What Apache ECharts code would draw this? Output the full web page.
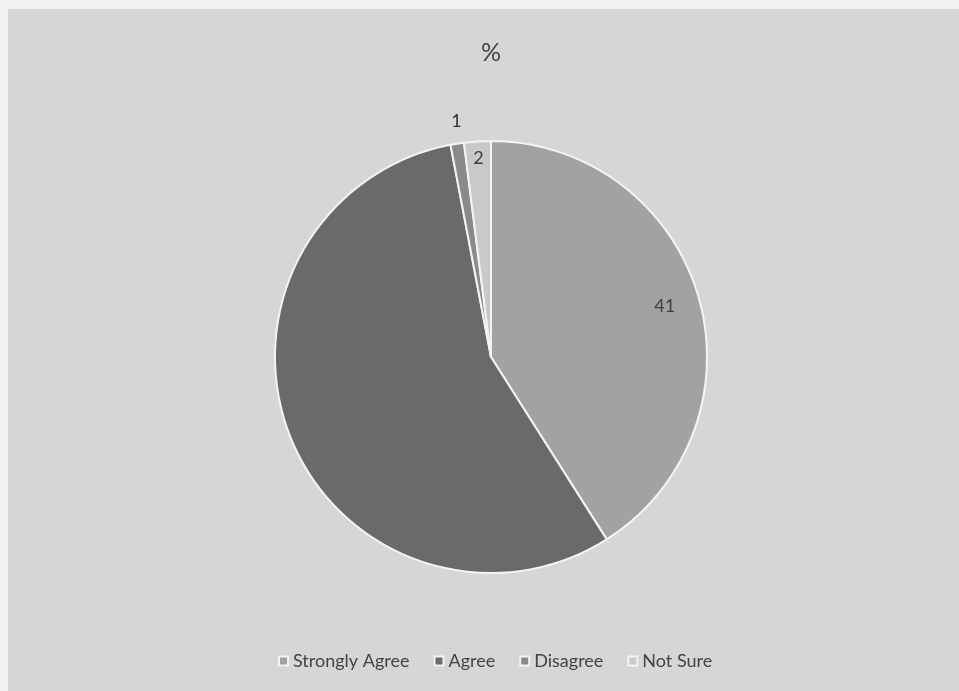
<!DOCTYPE html>
<html>
<head>
<meta charset="utf-8">
<script src="https://cdn.jsdelivr.net/npm/echarts@6/dist/echarts.min.js"></script>
<style>
html,body{margin:0;padding:0;background:#f2f2f2;width:959px;height:691px;overflow:hidden;}
#c{position:absolute;left:8px;top:9px;width:951px;height:682px;background:#d6d6d6;}
</style>
</head>
<body>
<div id="c"></div>
<script>
const titleText = '%';
const categories = ['Strongly Agree', 'Agree', 'Disagree', 'Not Sure'];
const values = [41, 56, 1, 2];
const colors = ['#a2a2a2', '#6a6a6a', '#8a8a8a', '#c9c9c9'];
// which labels are shown, and where
const labelMode = ['inner', 'none', 'outside', 'inner'];
// radial distance (px) of each inner label from the centre
const labelRadius = [178, 0, 0, 196];

const chart = echarts.init(document.getElementById('c'));
const font = 'Lato, "Open Sans", sans-serif';
const center = [483, 348];
const R = 216;

const mainData = categories.map((n, i) => ({
  name: n, value: values[i],
  itemStyle: { color: colors[i] },
  label: { show: labelMode[i] === 'outside' }
}));

const ghostSeries = [];
categories.forEach((n, k) => {
  if (labelMode[k] !== 'inner') return;
  ghostSeries.push({
    type: 'pie', center: center, radius: [labelRadius[k] - 10, labelRadius[k] + 10],
    startAngle: 90, clockwise: true, silent: true,
    data: categories.map((m, i) => ({ name: m, value: values[i], label: { show: i === k } })),
    itemStyle: { color: 'rgba(0,0,0,0)', borderWidth: 0 },
    label: { position: 'inside', formatter: '{c}', fontFamily: font, fontSize: 18, color: '#404040' },
    labelLine: { show: false },
    emphasis: { disabled: true }
  });
});

chart.setOption({
  animation: false,
  title: {
    text: titleText, left: 478, top: 26, textAlign: 'center',
    textStyle: { fontFamily: font, fontSize: 25, fontWeight: 'normal', color: '#444' }
  },
  legend: {
    data: categories, bottom: 16, left: 265,
    itemWidth: 9, itemHeight: 9, itemGap: 24, icon: 'rect',
    textStyle: { fontFamily: font, fontSize: 18, color: '#444' }
  },
  series: [
    {
      type: 'pie', center: center, radius: [0, R], startAngle: 90, clockwise: true,
      data: mainData,
      itemStyle: { borderColor: '#f4f4f4', borderWidth: 2 },
      label: { position: 'outside', formatter: '{c}', fontFamily: font, fontSize: 18, color: '#333', distanceToLabelLine: -8 },
      labelLine: { show: false, length: 23, length2: 0 },
      emphasis: { disabled: true }
    }
  ].concat(ghostSeries)
});
</script>
</body>
</html>
